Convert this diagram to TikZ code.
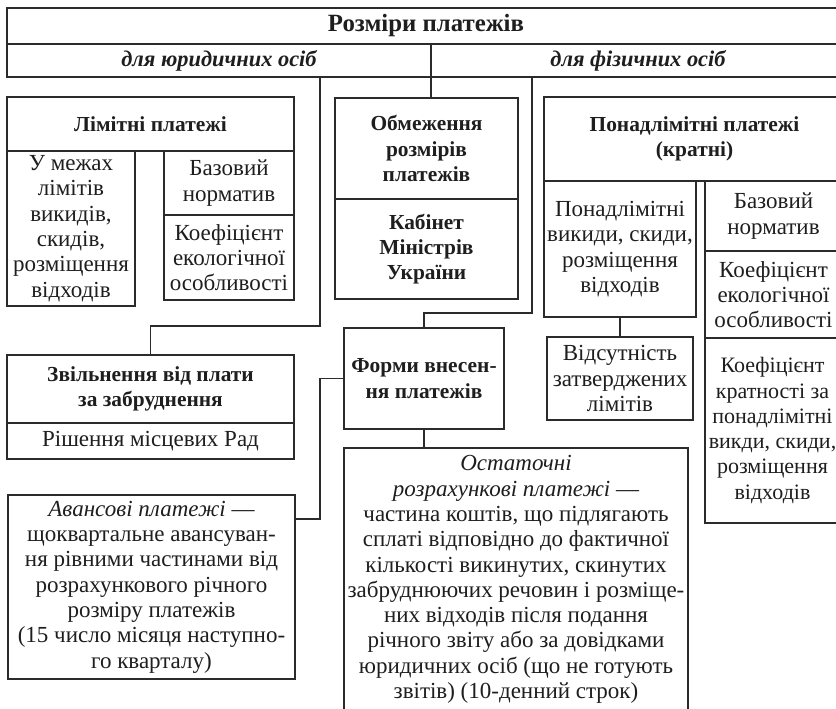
\documentclass[tikz,border=0pt]{standalone}
\usepackage{fontspec}
\setmainfont{Liberation Serif}
\definecolor{lc}{HTML}{2B2B2B}
\definecolor{tc}{HTML}{1E1E1E}
\newcommand\ntxt{\fontsize{11.5}{12.65}\selectfont}
\newcommand\btxt{\fontsize{10.7}{12.65}\selectfont\bfseries}
% \mkbox{name}{style}{x1}{y1}{x2}{y2}{text}  (pixel coordinates, y downwards)
\newcommand\mkbox[7]{%
  \node[#2, minimum width={(#5-#3)*0.5pt}, minimum height={(#6-#4)*0.5pt}]
    (#1) at ({(#3+#5)/2},{(#4+#6)/2}) {#7};}
\begin{document}
\begin{tikzpicture}[x=0.5pt,y=-0.5pt,
  bx/.style={draw=lc, fill=white, line width=0.75pt, inner sep=0pt, outer sep=0pt, align=center, text=tc, font=\ntxt},
  bbx/.style={bx, font=\btxt},
  hbx/.style={bx, font=\fontsize{11.2}{13}\selectfont\bfseries\itshape},
  conn/.style={draw=lc, line width=0.75pt}]
\useasboundingbox (0,0) rectangle (836,708);
\fill[white] (0,0) rectangle (836,708);
\clip (0,0) rectangle (836,708);
% header
\mkbox{title}{bbx, font=\fontsize{12.4}{14}\selectfont\bfseries}{7}{8}{845}{44}{Розміри платежів}
\mkbox{yur}{hbx}{7}{44}{431}{77}{для юридичних осіб}
\mkbox{fiz}{hbx}{431}{44}{845}{77}{для фізичних осіб}
% limit payments
\mkbox{limh}{bbx}{7}{97}{294}{151}{Лімітні платежі}
\mkbox{lim1}{bx}{7}{151}{135}{306}{У межах\\лімітів\\викидів,\\скидів,\\розміщення\\відходів}
\mkbox{lim2}{bx}{164}{151}{294}{215}{Базовий\\норматив}
\mkbox{lim3}{bx}{164}{215}{294}{300}{Коефіцієнт\\екологічної\\особливості}
% restriction
\mkbox{obm}{bbx}{335}{98}{518}{199}{Обмеження\\розмірів\\платежів}
\mkbox{kab}{bbx}{335}{199}{518}{299}{Кабінет\\Міністрів\\України}
% over-limit payments
\mkbox{pon}{bbx}{544}{97}{845}{181}{Понадлімітні платежі\\(кратні)}
\mkbox{pv}{bx}{544}{181}{696}{317}{Понадлімітні\\викиди, скиди,\\розміщення\\відходів}
\mkbox{pb}{bx}{705}{181}{842}{251}{Базовий\\норматив}
\mkbox{pk}{bx}{705}{251}{842}{338}{Коефіцієнт\\екологічної\\особливості}
\mkbox{pkr}{bx, font=\fontsize{11}{12.65}\selectfont}{705}{338}{840}{523}{Коефіцієнт\\кратності за\\понадлімітні\\викди, скиди,\\розміщення\\відходів}
\mkbox{vid}{bx}{547}{337}{693}{420}{Відсутність\\затверджених\\лімітів}
% exemption
\mkbox{zv}{bbx}{7}{355}{294}{423}{Звільнення від плати\\за забруднення}
\mkbox{rish}{bx}{7}{423}{294}{459}{Рішення місцевих Рад}
% forms
\mkbox{form}{bbx}{344}{328}{504}{429}{Форми внесен-\\ня платежів}
\mkbox{av}{bx}{8}{495}{295}{679}{\textit{Авансові платежі} —\\щоквартальне авансуван-\\ня рівними частинами від\\розрахункового річного\\розміру платежів\\(15 число місяця наступно-\\го кварталу)}
\mkbox{ost}{bx}{344}{448}{688}{711}{\textit{Остаточні}\\\textit{розрахункові платежі} —\\частина коштів, що підлягають\\сплаті відповідно до фактичної\\кількості викинутих, скинутих\\забруднюючих речовин і розміще-\\них відходів після подання\\річного звіту або за довідками\\юридичних осіб (що не готують\\звітів) (10-денний строк)}
% connectors
\coordinate (c1) at (320,326);
\coordinate (c2) at (532,313);
\coordinate (c3) at (320,519);
\draw[conn] (yur.south -| c1) -- (c1) -| (zv.north);
\draw[conn] (fiz.south west) -- (fiz.south west |- obm.north);
\draw[conn] (fiz.south -| c2) -- (c2) -| (form.north);
\draw[conn] (av.east |- c3) -- (c3) |- (form.west);
\draw[conn] (form.south) -- (form.south |- ost.north);
\draw[conn] (pv.south) -- (pv.south |- vid.north);
\end{tikzpicture}
\end{document}
